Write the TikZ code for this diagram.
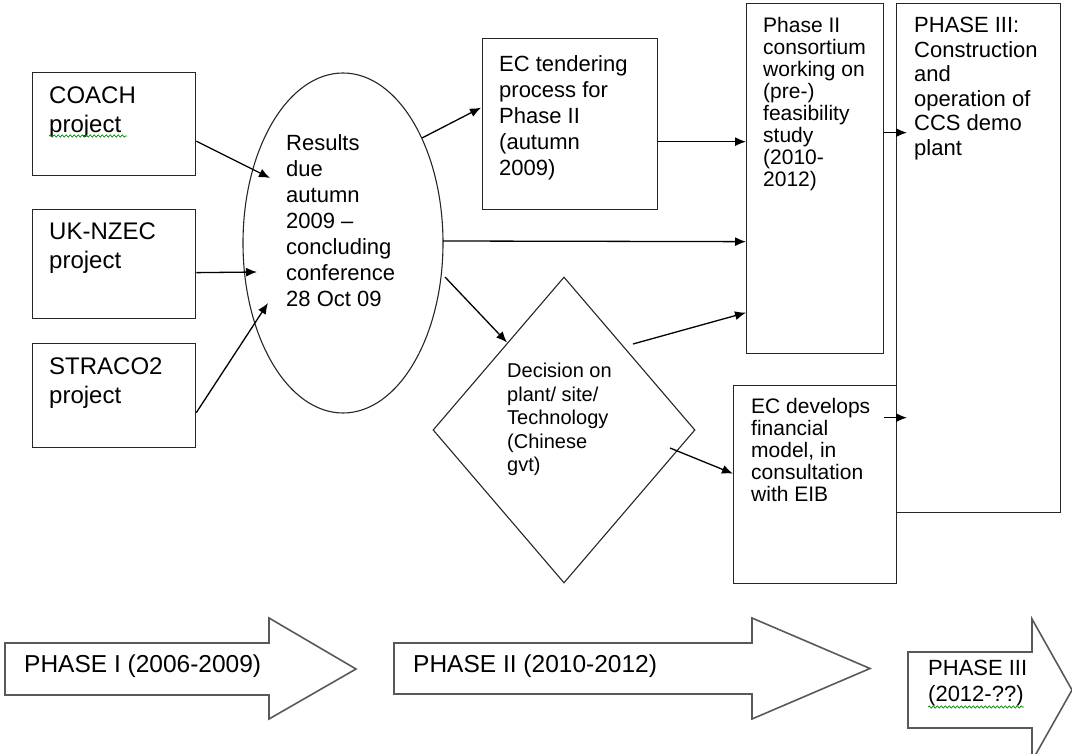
\documentclass[tikz,border=0pt]{standalone}
\usepackage{fontspec}
\setmainfont{Liberation Sans}
\usetikzlibrary{arrows.meta,calc,shapes.geometric,decorations.pathmorphing}

\tikzset{
  kasten/.style={draw=black!85, line width=1.3pt, inner sep=0pt, anchor=north west},
  schrift/.style={anchor=north west, inner sep=0pt, align=left},
  pfeil/.style={-{Latex[length=11pt,width=9pt]}, line width=1.3pt},
  phasenpfeil/.style={draw=black!65, line width=1.6pt, line join=miter},
  welle/.style={green!55!black, line width=0.7pt, decorate, decoration={snake, amplitude=1.1pt, segment length=4pt}}
}

\begin{document}
\begin{tikzpicture}[x=1pt,y=-1pt]
%Alles in Pixeln des Vorbilds, y zeigt nach unten
\useasboundingbox (0,0) rectangle (1072,754);

%Linke Spalte: die drei Projekte
\node[kasten, minimum width=163pt, minimum height=103pt] (coach) at (32,72) {};
\node[kasten, minimum width=163pt, minimum height=109pt] (ukNzec) at (32,209) {};
\node[kasten, minimum width=163pt, minimum height=104pt] (straco) at (32,343) {};
\node[schrift, font=\fontsize{24}{29}\selectfont] (coachText) at (49,87) {COACH\\project};
\node[schrift, font=\fontsize{24}{29}\selectfont] (ukNzecText) at (49,223) {UK-NZEC\\project};
\node[schrift, font=\fontsize{24}{29}\selectfont] (stracoText) at (49,358) {STRACO2\\project};
\draw[welle] (49,136) -- (127,136);

%Ellipse und Raute
\node[draw=black!85, ellipse, line width=1.1pt, inner sep=0pt, minimum width=200pt, minimum height=340pt] (ergebnis) at (343,243) {};
\node[schrift, font=\fontsize{22}{26}\selectfont] (ergebnisText) at (286,134) {Results\\due\\autumn\\2009 --\\concluding\\conference\\28 Oct 09};
\node[draw=black!85, diamond, line width=1.1pt, inner sep=0pt, minimum width=262pt, minimum height=306pt] (entscheidung) at (564,430) {};
\node[schrift, font=\fontsize{20}{23.5}\selectfont] (entscheidungText) at (507,363) {Decision on\\plant/ site/\\Technology\\(Chinese\\gvt)};

%Kaesten rechts
\node[kasten, minimum width=175pt, minimum height=171pt] (ausschreibung) at (482,38) {};
\node[schrift, font=\fontsize{22}{26}\selectfont] (ausschreibungText) at (499,55) {EC tendering\\process for\\Phase II\\(autumn\\2009)};
\node[kasten, minimum width=137pt, minimum height=350pt] (phaseZwei) at (746,3) {};
\node[schrift, font=\fontsize{21}{22}\selectfont] (phaseZweiText) at (763,17) {Phase II\\consortium\\working on\\(pre-)\\feasibility\\study\\(2010-\\2012)};
\node[kasten, minimum width=163pt, minimum height=198pt] (finanzModell) at (733,385) {};
\node[schrift, font=\fontsize{21}{22}\selectfont] (finanzModellText) at (751,398) {EC develops\\financial\\model, in\\consultation\\with EIB};
\node[kasten, minimum width=164pt, minimum height=509pt] (phaseDrei) at (896,3) {};
\node[schrift, font=\fontsize{22}{24.5}\selectfont] (phaseDreiText) at (914,17) {PHASE III:\\Construction\\and\\operation of\\CCS demo\\plant};

%Verbindungen
\draw[pfeil] ($(coach.east)+(0,17)$) -- ($(ergebnis.center)+(-73,-65)$);
\draw[pfeil] ($(ukNzec.east)+(0,8.5)$) -- ($(ergebnis.center)+(-86,29)$);
\draw[pfeil] ($(straco.east)+(0,17)$) -- ($(ergebnis.center)+(-75,60)$);
\draw[pfeil] ($(ergebnis.center)+(79,-105)$) -- ($(ausschreibung.west)+(-1,-16.5)$);
\draw[pfeil] ($(ausschreibung.east)+(0,17.5)$) -- ($(phaseZwei.west)+(0,-37)$);
\draw[pfeil] ($(ergebnis.center)+(100,-2)$) -- ($(phaseZwei.west)+(0,63)$);
\draw[pfeil] ($(ergebnis.center)+(102,34)$) -- ($(entscheidung.north)+(-57,66)$);
\draw[pfeil] ($(entscheidung.center)+(69,-86)$) -- ($(phaseZwei.west)+(0,134)$);
\draw[pfeil] ($(entscheidung.center)+(106,18)$) -- ($(finanzModell.west)+(0,-11)$);
\draw[pfeil] ($(phaseZwei.east)+(0,-46)$) -- ($(phaseDrei.west)+(11,-125.5)$);
\draw[pfeil] ($(finanzModell.east)+(-13,-67)$) -- ($(phaseDrei.west)+(11,159.5)$);

%Phasenpfeile unten: links, oben, unten, Kopfanfang, Kopf oben, Kopf unten, Spitze
\begin{scope}
\clip (0,0) rectangle (1072,754);
\foreach \xa/\yo/\yu/\xk/\yko/\yku/\xs in {5/643/695/269/618/719/356, 394/643/694/752/618/719/870, 908/652/728/1032/619/761/1072}{
  \draw[phasenpfeil] (\xa,\yo) -- (\xk,\yo) -- (\xk,\yko) -- (\xs,{(\yo+\yu)/2}) -- (\xk,\yku) -- (\xk,\yu) -- (\xa,\yu) -- cycle;
}
\end{scope}
\node[schrift, font=\fontsize{24.5}{29}\selectfont] (phaseEinsText) at (24,655) {PHASE I (2006-2009)};
\node[schrift, font=\fontsize{24.5}{29}\selectfont] (phaseZweiPfeilText) at (413,655) {PHASE II (2010-2012)};
\node[schrift, font=\fontsize{22}{26}\selectfont] (phaseDreiPfeilText) at (928,660) {PHASE III\\(2012-??)};
\draw[welle] (928,707) -- (1024,707);
\end{tikzpicture}
\end{document}
